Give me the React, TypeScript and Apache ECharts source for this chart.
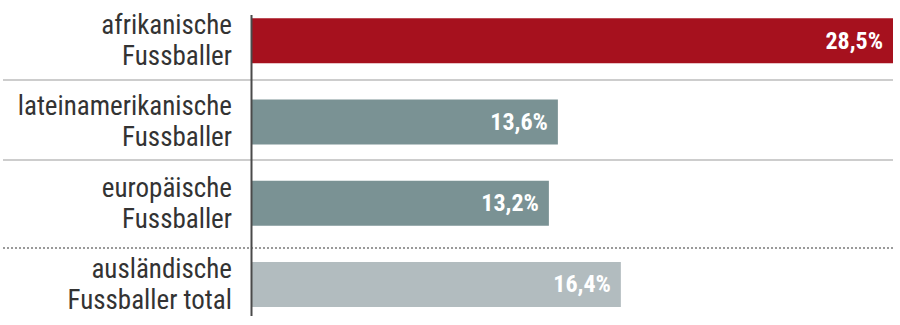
import React, { useEffect, useRef } from "react";
import * as echarts from "echarts";

const categories = [
  "afrikanische\nFussballer",
  "lateinamerikanische\nFussballer",
  "europäische\nFussballer",
  "ausländische\nFussballer total",
];
const values = [28.5, 13.6, 13.2, 16.4];
const barColors = ["#a6111e", "#7a9294", "#7a9294", "#b2bcbf"];

export default function App() {
  const ref = useRef<HTMLDivElement>(null);
  useEffect(() => {
    if (!ref.current) return;
    const chart = echarts.init(ref.current, null, { renderer: "svg" });
    const font = "'Liberation Sans Narrow', 'Roboto Condensed', 'DejaVu Sans Condensed', sans-serif";
    chart.setOption({
      animation: false,
      backgroundColor: "#ffffff",
      grid: { left: 252, right: 7, top: -4, height: 335, containLabel: false },
      xAxis: {
        type: "value",
        min: 0,
        max: 28.5,
        show: false,
      },
      yAxis: {
        type: "category",
        inverse: true,
        data: categories,
        axisLine: { show: false },
        axisTick: { show: false },
        splitLine: { show: false },
        axisLabel: {
          margin: 20,
          color: "#333333",
          fontSize: 27,
          lineHeight: 31,
          fontFamily: font,
          align: "right",
        },
      },
      graphic: [
        { type: "line", z: 1, shape: { x1: 3, y1: 80, x2: 893, y2: 80 }, style: { stroke: "#bcbcbc", lineWidth: 1.5 } },
        { type: "line", z: 1, shape: { x1: 3, y1: 160, x2: 893, y2: 160 }, style: { stroke: "#bcbcbc", lineWidth: 1.5 } },
        { type: "line", z: 1, shape: { x1: 3, y1: 248, x2: 893, y2: 248 }, style: { stroke: "#9a9a9a", lineWidth: 2, lineDash: [2, 2] } },
        { type: "line", z: 100, shape: { x1: 251.5, y1: 15, x2: 251.5, y2: 316 }, style: { stroke: "#4a4a4a", lineWidth: 2 } },
      ],
      series: [
        {
          type: "bar",
          barWidth: 45,
          z: 5,
          data: values.map((v, i) => ({ value: v, itemStyle: { color: barColors[i] } })),
          label: {
            show: true,
            position: "insideRight",
            distance: 10,
            color: "#ffffff",
            fontSize: 24,
            fontWeight: "bold",
            fontFamily: font,
            formatter: (p: any) => String(p.value.toFixed(1)).replace(".", ",") + "%",
          },
        },
      ],
    });
    return () => chart.dispose();
  }, []);
  return (
    <div
      ref={ref}
      style={{ position: "absolute", left: 0, top: 0, width: 900, height: 325 }}
    />
  );
}
